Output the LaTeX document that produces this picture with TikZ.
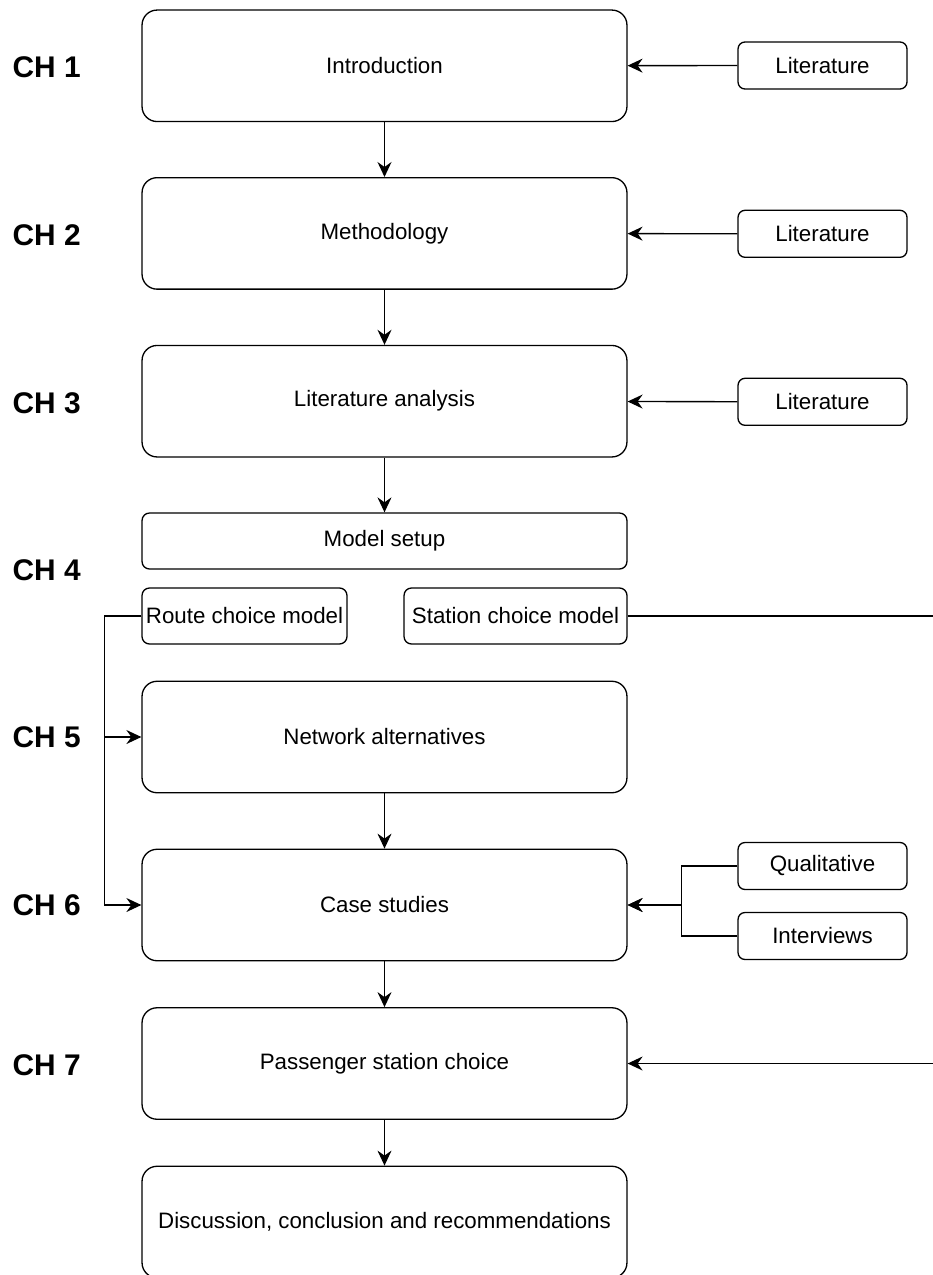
\documentclass[tikz,border=0pt]{standalone}
\usepackage{fontspec}
\setmainfont{Liberation Sans}
\usetikzlibrary{arrows.meta}
\tikzset{
  >={Stealth[length=3mm,width=2.8mm,inset=1mm]},
  chap/.style={draw,rounded corners=0.3cm,minimum width=9.7cm,minimum height=2.23cm,inner sep=1pt,font=\fontsize{12.7}{15}\selectfont},
  sub/.style={draw,rounded corners=0.15cm,minimum height=1.12cm,inner sep=1pt,font=\fontsize{12.7}{15}\selectfont},
  src/.style={draw,rounded corners=0.14cm,minimum width=3.38cm,minimum height=0.94cm,inner sep=1pt,font=\fontsize{12.7}{15}\selectfont},
  ch/.style={anchor=west,inner sep=0pt,font=\fontsize{17}{20}\selectfont\bfseries},
  every picture/.style={line width=0.75pt},
}
\begin{document}
\begin{tikzpicture}[x=0.02cm,y=-0.02cm]
\useasboundingbox (0,0) rectangle (933,1275);
\clip (0,0) rectangle (933,1275);
% chapter boxes
\node[chap] (intro) at (384.5,65.8){Introduction}; \node[chap] (meth) at (384.5,233.4){Methodology};
\node[chap] (lita) at (384.5,401.2){Literature analysis};
\node[sub,minimum width=9.7cm] (setup) at (384.5,541){Model setup};
\node[sub,minimum width=4.1cm] (route) at (244.5,616){Route choice model};
\node[sub,minimum width=4.46cm] (stat) at (515.5,616){Station choice model};
\node[chap] (net) at (384.5,737){Network alternatives}; \node[chap] (case) at (384.5,905){Case studies};
\node[chap] (pass) at (384.5,1063.5){Passenger station choice};
\node[chap] (disc) at (384.5,1222){Discussion, conclusion and recommendations};
% sources
\node[src] (lit1) at (822.5,65.5){Literature}; \node[src] (lit2) at (822.5,233.8){Literature};
\node[src] (lit3) at (822.5,401.8){Literature};
\node[src] (qual) at (822.5,866){Qualitative}; \node[src] (intv) at (822.5,936){Interviews};
% chapter labels
\node[ch] (c1) at (12,67.5){CH 1}; \node[ch] (c2) at (12,235){CH 2}; \node[ch] (c3) at (12,403){CH 3};
\node[ch] (c4) at (12,570){CH 4}; \node[ch] (c5) at (12,737){CH 5}; \node[ch] (c6) at (12,905){CH 6};
\node[ch] (c7) at (12,1065){CH 7};
\coordinate (sedge) at (933,616); \coordinate (pedge) at (933,1063.5);
\draw[->] (intro)--(meth); \draw[->] (meth)--(lita); \draw[->] (lita)--(setup);
\draw[->] (net)--(case); \draw[->] (case)--(pass); \draw[->] (pass)--(disc);
\draw[->] (lit1)--(intro); \draw[->] (lit2)--(meth); \draw[->] (lit3)--(lita);
\draw[->] (route.west) -- ++(-37,0) |- (net.west);
\draw[->] (route.west) -- ++(-37,0) |- (case.west);
\draw[->] (qual.west) -- ++(-56,0) |- (case.east);
\draw[->] (intv.west) -- ++(-56,0) |- (case.east);
\draw (stat.east)--(sedge); \draw[->] (pedge)--(pass.east);
\end{tikzpicture}
\end{document}
